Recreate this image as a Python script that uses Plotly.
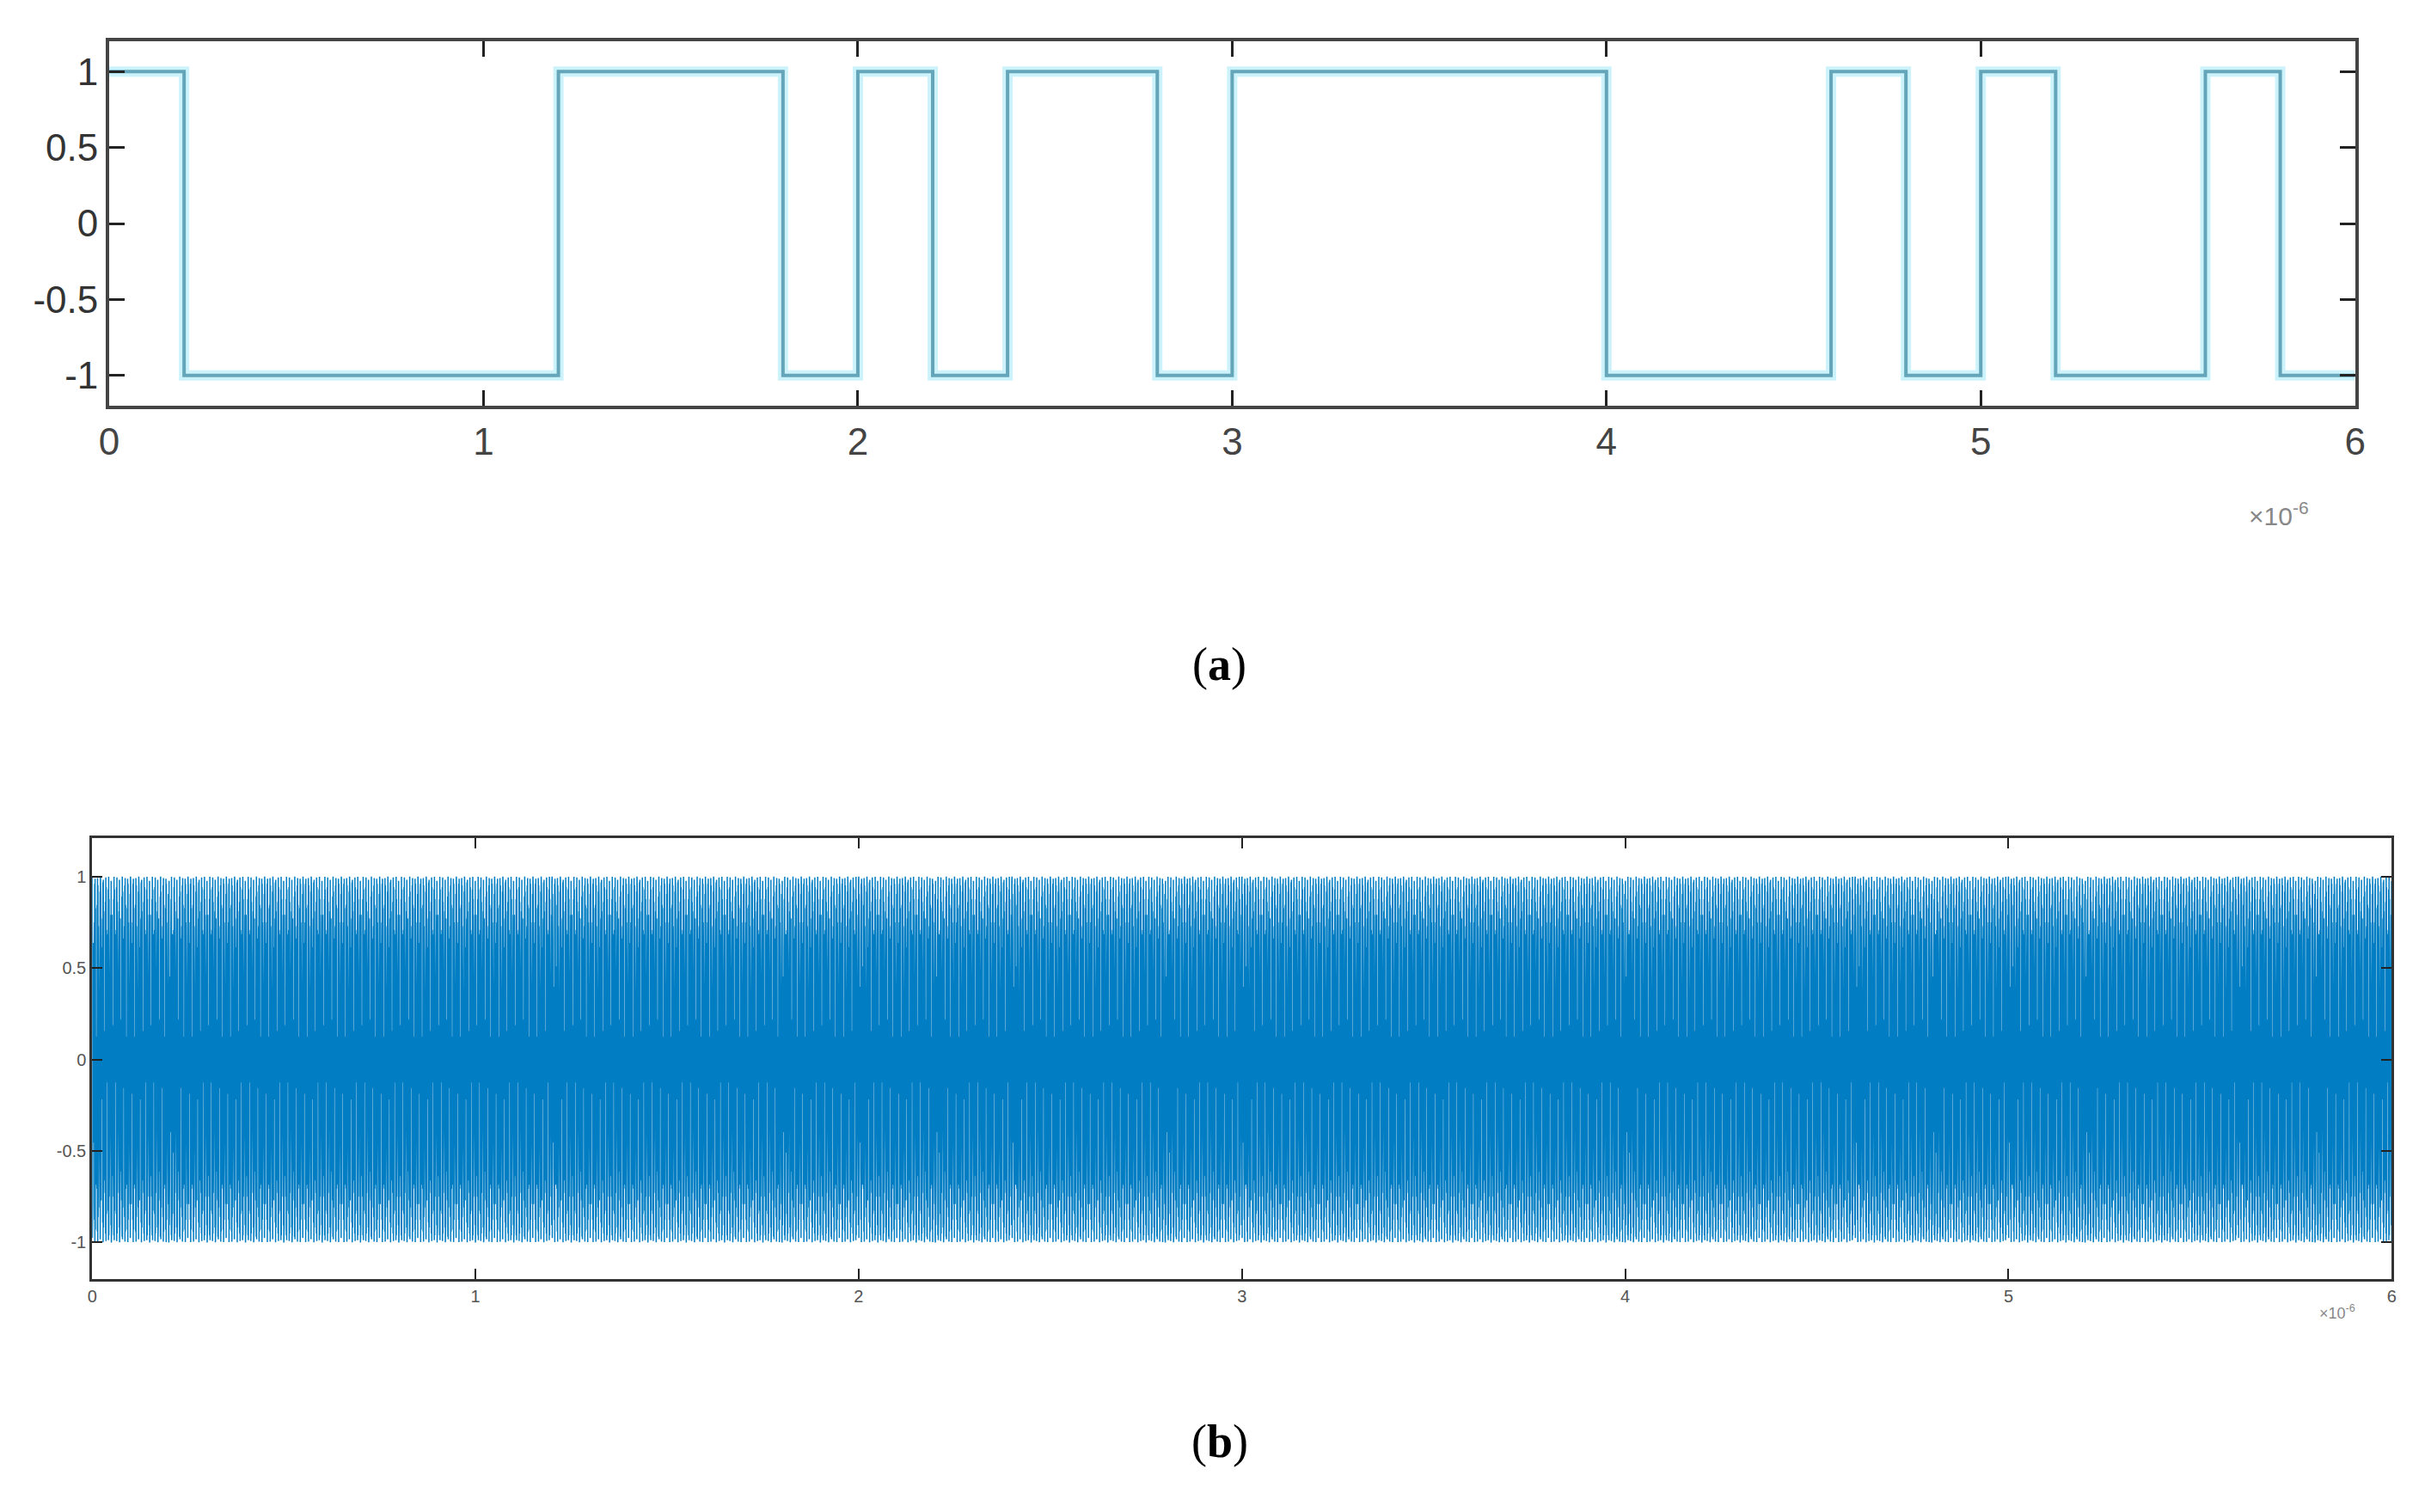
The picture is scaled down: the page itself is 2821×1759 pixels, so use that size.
import numpy as np
import plotly.graph_objects as go

# bit sequence, 0.2 us per bit
bits = [1,0,0,0,0,0,1,1,1,0,1,0,1,1,0,1,1,1,1,1,0,0,0,1,0,1,0,0,1,0]
bit_width_us = 0.2
x_ticks = [0,1,2,3,4,5,6]
y_ticks_a = [-1,-0.5,0,0.5,1]
y_tick_labels_a = ["-1","-0.5","0","0.5","1"]
carrier_ghz = 0.93   # carrier used for modulated signal in panel b
sample_ns = 0.5

levels = [1 if b else -1 for b in bits]
xs, ys = [], []
for i, v in enumerate(levels):
    xs += [i*bit_width_us, (i+1)*bit_width_us]
    ys += [v, v]

# modulated (BPSK) signal for panel b
t = np.arange(0, len(bits)*bit_width_us*1000 + sample_ns, sample_ns)  # ns
idx = np.minimum((t/(bit_width_us*1000)).astype(int), len(bits)-1)
sym = np.array(levels)[idx]
sig = sym*np.cos(2*np.pi*carrier_ghz*t)
tb = t/1000.0

fig = go.Figure()
fig.add_trace(go.Scatter(x=xs, y=ys, mode="lines", line=dict(color="rgba(170,235,248,0.6)", width=12),
                         xaxis="x", yaxis="y", hoverinfo="skip"))
fig.add_trace(go.Scatter(x=xs, y=ys, mode="lines", line=dict(color="rgb(100,165,185)", width=4),
                         xaxis="x", yaxis="y"))
fig.add_trace(go.Scatter(x=tb, y=sig, mode="lines", line=dict(color="rgb(0,125,195)", width=1.5),
                         xaxis="x2", yaxis="y2"))

W, H = 2821, 1759
axcommon = dict(showgrid=False, zeroline=False, mirror="ticks", showline=True, ticks="inside")
fig.update_layout(
    width=W, height=H, margin=dict(l=0, r=0, t=0, b=0),
    paper_bgcolor="white", plot_bgcolor="white", showlegend=False,
    font=dict(family="Liberation Sans Narrow, Arial", color="#222"),
    xaxis=dict(domain=[108/W, 2743/W], range=[0,6], tickvals=x_ticks, linecolor="#444", linewidth=4,
               ticklen=18, tickwidth=3, tickcolor="#222", tickfont=dict(size=44, color="#444"), anchor="y", **axcommon),
    yaxis=dict(domain=[1-464/H, 1-40/H], range=[-1.2,1.2], tickvals=y_ticks_a, ticktext=y_tick_labels_a,
               linecolor="#444", linewidth=4, ticklen=18, tickwidth=3, tickcolor="#222",
               tickfont=dict(size=44, color="#333"), anchor="x", **axcommon),
    xaxis2=dict(domain=[88/W, 2786/W], range=[0,6], tickvals=x_ticks, linecolor="#333", linewidth=3,
                ticklen=12, tickwidth=2, tickcolor="#222", tickfont=dict(size=20, color="#555"), anchor="y2", **axcommon),
    yaxis2=dict(domain=[1-1480/H, 1-967/H], range=[-1.2,1.21], tickvals=y_ticks_a, ticktext=y_tick_labels_a,
                linecolor="#333", linewidth=3, ticklen=12, tickwidth=2, tickcolor="#222",
                tickfont=dict(size=20, color="#555"), anchor="x2", **axcommon),
    annotations=[
        dict(text="×10<sup>-6</sup>", x=2691/W, y=1-590/H, xref="paper", yref="paper", showarrow=False,
             font=dict(size=30, color="#888")),
        dict(text="×10<sup>-6</sup>", x=2745/W, y=1-1532/H, xref="paper", yref="paper", showarrow=False,
             font=dict(size=18, color="#888")),
        dict(text="(<b>a</b>)", x=0.5, y=1-765/H, xref="paper", yref="paper", showarrow=False,
             font=dict(size=54, family="Liberation Serif", color="black")),
        dict(text="(<b>b</b>)", x=0.5, y=1-1701/H, xref="paper", yref="paper", showarrow=False,
             font=dict(size=54, family="Liberation Serif", color="black")),
    ],
)
fig.write_html("out.html")
